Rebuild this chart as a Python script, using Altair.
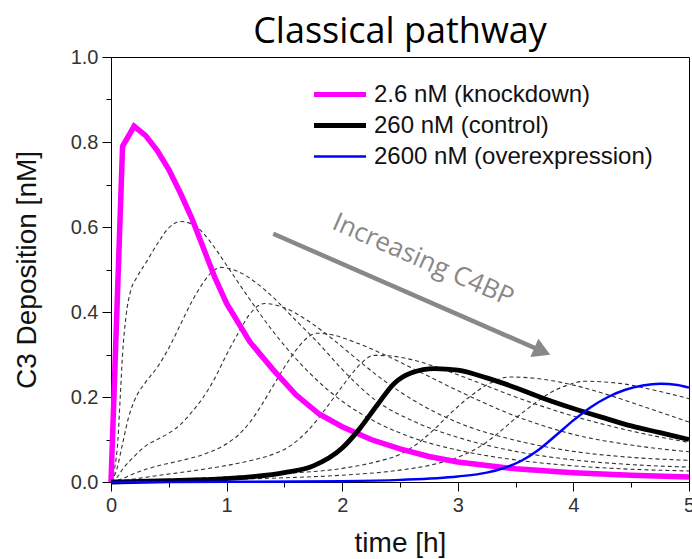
import altair as alt
import pandas as pd

# ---------------- data ----------------
LABELS = ["2.6 nM (knockdown)", "260 nM (control)", "2600 nM (overexpression)"]
COLORS = ["#ff00ff", "#000000", "#0000ff"]

t_knock = [0, 0.1, 0.2, 0.3, 0.4, 0.5, 0.6, 0.7, 0.8, 0.9, 1.0, 1.2, 1.4, 1.6, 1.8, 2.0, 2.25, 2.5, 2.75, 3.0, 3.5, 4.0, 4.5, 5.0]
v_knock = [0, 0.79, 0.837, 0.815, 0.78, 0.735, 0.68, 0.62, 0.55, 0.48, 0.42, 0.33, 0.265, 0.205, 0.16, 0.13, 0.10, 0.078, 0.06, 0.047, 0.031, 0.022, 0.016, 0.012]

t_ctrl = [0, 0.5, 1.0, 1.25, 1.5, 1.75, 2.0, 2.15, 2.3, 2.45, 2.6, 2.8, 3.0, 3.25, 3.5, 3.75, 4.0, 4.25, 4.5, 4.75, 5.0]
v_ctrl = [0, 0.003, 0.008, 0.013, 0.022, 0.038, 0.08, 0.125, 0.18, 0.232, 0.257, 0.267, 0.263, 0.245, 0.222, 0.196, 0.173, 0.152, 0.132, 0.116, 0.1]

t_over = [0, 1.0, 2.0, 2.5, 3.0, 3.25, 3.4, 3.55, 3.7, 3.85, 4.0, 4.15, 4.3, 4.45, 4.6, 4.75, 4.9, 5.0]
v_over = [0, 0.0005, 0.002, 0.005, 0.013, 0.022, 0.033, 0.05, 0.076, 0.11, 0.145, 0.176, 0.2, 0.217, 0.227, 0.231, 0.228, 0.222]

# intermediate C4BP concentrations (dashed)
t_d1 = [0, 0.03, 0.06, 0.08, 0.1, 0.13, 0.17, 0.22, 0.3, 0.4, 0.5, 0.6, 0.7, 0.8, 0.9, 1.0, 1.2, 1.4, 1.6, 1.8, 2.0, 2.3, 2.6, 3.0, 3.5, 4.0, 4.5, 5.0]
v_d1 = [0, 0.03, 0.1, 0.2, 0.3, 0.39, 0.45, 0.48, 0.515, 0.56, 0.598, 0.613, 0.607, 0.585, 0.55, 0.51, 0.43, 0.355, 0.29, 0.235, 0.19, 0.14, 0.105, 0.075, 0.052, 0.038, 0.03, 0.026]
t_d2 = [0, 0.05, 0.1, 0.15, 0.2, 0.3, 0.4, 0.5, 0.6, 0.7, 0.8, 0.9, 0.95, 1.1, 1.25, 1.4, 1.6, 1.8, 2.0, 2.3, 2.6, 3.0, 3.5, 4.0, 4.5, 5.0]
v_d2 = [0, 0.03, 0.09, 0.15, 0.19, 0.235, 0.27, 0.315, 0.37, 0.425, 0.47, 0.5, 0.505, 0.495, 0.47, 0.435, 0.38, 0.325, 0.265, 0.19, 0.145, 0.105, 0.072, 0.052, 0.041, 0.035]
t_d3 = [0, 0.05, 0.1, 0.2, 0.3, 0.4, 0.5, 0.6, 0.7, 0.8, 0.9, 1.0, 1.1, 1.2, 1.33, 1.5, 1.7, 1.9, 2.1, 2.33, 2.6, 3.0, 3.5, 4.0, 4.5, 5.0]
v_d3 = [0, 0.01, 0.03, 0.06, 0.085, 0.1, 0.115, 0.135, 0.165, 0.2, 0.245, 0.3, 0.35, 0.395, 0.42, 0.41, 0.38, 0.34, 0.295, 0.245, 0.195, 0.14, 0.098, 0.072, 0.058, 0.051]
t_d4 = [0, 0.1, 0.2, 0.42, 0.6, 0.8, 1.0, 1.1, 1.2, 1.3, 1.4, 1.5, 1.6, 1.7, 1.78, 1.9, 2.1, 2.4, 2.7, 3.0, 3.5, 4.0, 4.5, 5.0]
v_d4 = [0, 0.008, 0.02, 0.039, 0.05, 0.065, 0.09, 0.11, 0.14, 0.18, 0.225, 0.27, 0.31, 0.34, 0.35, 0.347, 0.33, 0.295, 0.255, 0.215, 0.155, 0.112, 0.087, 0.071]
t_d5 = [0, 0.2, 0.4, 0.8, 1.2, 1.4, 1.55, 1.7, 1.85, 2.0, 2.1, 2.2, 2.27, 2.4, 2.6, 2.8, 3.1, 3.5, 4.0, 4.5, 5.0]
v_d5 = [0, 0.007, 0.015, 0.03, 0.05, 0.065, 0.085, 0.12, 0.17, 0.225, 0.26, 0.288, 0.298, 0.297, 0.288, 0.272, 0.242, 0.2, 0.155, 0.12, 0.093]
t_d6 = [0, 0.5, 1.0, 1.5, 2.0, 2.3, 2.5, 2.65, 2.8, 2.95, 3.1, 3.25, 3.45, 3.7, 4.0, 4.3, 4.6, 5.0]
v_d6 = [0, 0.006, 0.012, 0.02, 0.032, 0.048, 0.065, 0.09, 0.125, 0.165, 0.2, 0.228, 0.247, 0.243, 0.228, 0.205, 0.178, 0.141]
t_d7 = [0, 0.5, 1.0, 1.5, 2.0, 2.5, 2.8, 3.0, 3.2, 3.35, 3.5, 3.65, 3.8, 3.95, 4.1, 4.4, 4.7, 5.0]
v_d7 = [0, 0.003, 0.006, 0.01, 0.016, 0.028, 0.042, 0.058, 0.085, 0.115, 0.15, 0.182, 0.21, 0.228, 0.237, 0.232, 0.216, 0.196]

x_ticks = [0, 0.5, 1, 1.5, 2, 2.5, 3, 3.5, 4, 4.5, 5]
y_ticks = [0, 0.1, 0.2, 0.3, 0.4, 0.5, 0.6, 0.7, 0.8, 0.9, 1.0]

# annotation arrow (data coordinates) and its label
arrow_t = [1.404, 3.731]
arrow_v = [0.584, 0.3075]
annot_t = [2.70]
annot_v = [0.522]
annot_text = ["Increasing C4BP"]

# ---------------- tables ----------------
def frame(name, ts, vs):
    return pd.DataFrame({"t": ts, "v": vs, "series": name})

dashed = pd.concat([
    frame("d1", t_d1, v_d1), frame("d2", t_d2, v_d2), frame("d3", t_d3, v_d3),
    frame("d4", t_d4, v_d4), frame("d5", t_d5, v_d5), frame("d6", t_d6, v_d6),
    frame("d7", t_d7, v_d7),
])
knock = frame(LABELS[0], t_knock, v_knock)
ctrl = frame(LABELS[1], t_ctrl, v_ctrl)
over = frame(LABELS[2], t_over, v_over)
arrow = pd.DataFrame({"t": arrow_t, "v": arrow_v})
head = pd.DataFrame({"t": arrow_t[-1:], "v": arrow_v[-1:]})
annot = pd.DataFrame({"t": annot_t, "v": annot_v, "txt": annot_text})

# ---------------- encodings ----------------
X = alt.X("t:Q", scale=alt.Scale(domain=[0, 5], nice=False, zero=False),
          axis=alt.Axis(values=x_ticks, title="time [h]",
                        labelExpr="datum.value % 1 === 0 ? format(datum.value, 'd') : ''",
                        tickSize={"condition": {"test": "datum.value % 1 === 0", "value": 9}, "value": 5},
                        labelPadding=4, titlePadding=14, labelFlush=False))
Y = alt.Y("v:Q", scale=alt.Scale(domain=[0, 1], nice=False),
          axis=alt.Axis(values=y_ticks, title="C3 Deposition [nM]", format=".1f",
                        labelExpr="abs(datum.value*5 - round(datum.value*5)) < 0.001 ? datum.label : ''",
                        tickSize={"condition": {"test": "abs(datum.value*5 - round(datum.value*5)) < 0.001", "value": 9}, "value": 5},
                        labelPadding=4, titlePadding=29))

color = alt.Color("series:N",
                  scale=alt.Scale(domain=LABELS, range=COLORS),
                  sort=LABELS,
                  legend=alt.Legend(title=None, orient="none", legendX=202, legendY=22,
                                    symbolType="stroke", symbolSize=2704, symbolOffset=15,
                                    symbolStrokeWidth=alt.ExprRef("datum.value === '2600 nM (overexpression)' ? 2.5 : 5"),
                                    clipHeight=31, rowPadding=0, padding=0,
                                    labelOffset=22, labelFont="Liberation Sans",
                                    labelFontSize=24, labelColor="#111", labelLimit=0))

dashed_layer = alt.Chart(dashed).mark_line(
    color="#333333", strokeWidth=1.1, strokeDash=[4, 3], interpolate="monotone"
).encode(x=X, y=Y, detail="series:N")

knock_layer = alt.Chart(knock).mark_line(strokeWidth=5.5, interpolate="linear").encode(x=X, y=Y, color=color)
ctrl_layer = alt.Chart(ctrl).mark_line(strokeWidth=4.8, interpolate="monotone").encode(x=X, y=Y, color=color)
over_layer = alt.Chart(over).mark_line(strokeWidth=2.5, interpolate="monotone").encode(x=X, y=Y, color=color)

arrow_layer = alt.Chart(arrow).mark_line(color="#888888", strokeWidth=4.5).encode(x="t:Q", y="v:Q")
head_layer = alt.Chart(head).mark_point(shape="triangle-right", angle=23.7, filled=True,
                                        size=400, color="#888888", opacity=1).encode(x="t:Q", y="v:Q")
text_layer = alt.Chart(annot).mark_text(angle=23.7, font="Open Sans", fontSize=26, color="#888888",
                                        align="center", baseline="middle").encode(x="t:Q", y="v:Q", text="txt:N")

chart = alt.layer(
    dashed_layer, arrow_layer, head_layer, text_layer, knock_layer, ctrl_layer, over_layer
).properties(
    width=578, height=425,
    autosize=alt.AutoSizeParams(type="none"),
    padding={"left": 111, "top": 57, "right": 3, "bottom": 77},
    title=alt.Title("Classical pathway", font="Open Sans", fontSize=36, fontWeight="normal",
                    color="#000000", anchor="middle", frame="group", baseline="alphabetic",
                    offset=13, dy=45),
).configure_view(
    stroke="#000000", strokeWidth=1
).configure_axis(
    grid=False, domainColor="#000000", domainWidth=1, tickColor="#000000", tickWidth=1,
    labelFont="Liberation Sans", labelFontSize=20, labelColor="#333333",
    titleFont="Liberation Sans", titleFontSize=28, titleFontWeight="normal", titleColor="#111111",
)

chart.save("out.html", embed_options={"renderer": "svg", "actions": False})
